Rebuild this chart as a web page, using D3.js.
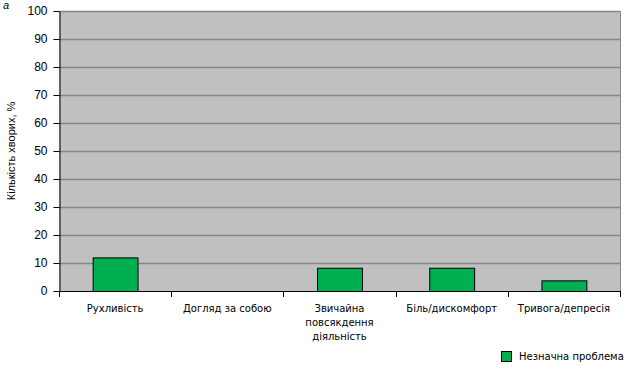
<!DOCTYPE html>
<html>
<head>
<meta charset="utf-8">
<script src="https://cdn.jsdelivr.net/npm/d3@7"></script>
<style>
  body { margin: 0; background: #fff; }
  svg text { fill: #000; }
</style>
</head>
<body>
<div id="chart"></div>
<script>
// data
var categories = ["Рухливість", "Догляд за собою", "Звичайна повсякденна діяльність", "Біль/дискомфорт", "Тривога/депресія"];
var catLines = [["Рухливість"], ["Догляд за собою"], ["Звичайна", "повсякдення", "діяльність"], ["Біль/дискомфорт"], ["Тривога/депресія"]];
var values = [12, 0, 8.3, 8.3, 3.8];
var yTicks = [0, 10, 20, 30, 40, 50, 60, 70, 80, 90, 100];
var seriesName = "Незначна проблема";

var w = 630, h = 373;
var margin = {left: 59, right: 10, top: 11, bottom: 82};

var svg = d3.select("#chart").append("svg")
    .attr("width", w)
    .attr("height", h);

var x = d3.scaleBand()
    .domain(categories)
    .range([margin.left, w - margin.right])
    .paddingInner(0.6)
    .paddingOuter(0.3);

var y = d3.scaleLinear()
    .domain([0, 100])
    .range([h - margin.bottom, margin.top]);

// plot background
svg.append("rect")
    .attr("x", margin.left)
    .attr("y", margin.top)
    .attr("width", w - margin.right - margin.left)
    .attr("height", y(0) - margin.top)
    .attr("fill", "#c0c0c0");

// gridlines
svg.append("g")
    .selectAll("line")
    .data(yTicks.filter(function(d){ return d > 0; }))
    .enter().append("line")
    .attr("x1", margin.left)
    .attr("x2", w - margin.right)
    .attr("y1", function(d){ return Math.round(y(d)) + 0.5; })
    .attr("y2", function(d){ return Math.round(y(d)) + 0.5; })
    .attr("stroke", "#868686")
    .attr("stroke-width", 1.5);

// right border
svg.append("line")
    .attr("x1", w - margin.right + 0.5).attr("x2", w - margin.right + 0.5)
    .attr("y1", margin.top).attr("y2", y(0))
    .attr("stroke", "#868686");

// bars (zero values draw nothing)
var barData = values.map(function(v, i){ return {cat: categories[i], value: v}; })
    .filter(function(d){ return d.value > 0; });

svg.append("g")
    .selectAll("rect")
    .data(barData)
    .enter().append("rect")
    .attr("x", function(d){ return x(d.cat) + 0.5; })
    .attr("y", function(d){ return y(d.value) + 0.5; })
    .attr("width", x.bandwidth())
    .attr("height", function(d){ return y(0) - y(d.value); })
    .attr("fill", "#00b050")
    .attr("stroke", "#000")
    .attr("stroke-width", 1);

// y axis
var yAxis = svg.append("g")
    .attr("transform", "translate(" + (margin.left + 0.5) + ",0)")
    .call(d3.axisLeft(y).tickValues(yTicks).tickSize(6).tickSizeOuter(0));
yAxis.select(".domain").attr("stroke", "#000");
yAxis.selectAll("text")
    .attr("x", -12)
    .style("font-family", "'Liberation Sans', Arial, sans-serif")
    .style("font-size", "12px");

// x axis line with ticks at band boundaries
var bounds = d3.range(categories.length + 1).map(function(i){
  return margin.left + i * (w - margin.right - margin.left) / categories.length;
});
svg.append("line")
    .attr("x1", margin.left).attr("x2", w - margin.right)
    .attr("y1", y(0) + 0.5).attr("y2", y(0) + 0.5)
    .attr("stroke", "#000");
svg.append("g")
    .selectAll("line")
    .data(bounds)
    .enter().append("line")
    .attr("x1", function(d){ return Math.round(d) + 0.5; })
    .attr("x2", function(d){ return Math.round(d) + 0.5; })
    .attr("y1", y(0))
    .attr("y2", y(0) + 6)
    .attr("stroke", "#000");

// category labels
var labels = svg.append("g")
    .selectAll("text")
    .data(categories)
    .enter().append("text")
    .attr("text-anchor", "middle")
    .attr("x", function(d){ return x(d) + x.bandwidth() / 2; })
    .attr("y", y(0) + 21)
    .style("font-family", "'DejaVu Sans', Verdana, sans-serif")
    .style("font-size", "10px");
labels.each(function(d, i){
  var t = d3.select(this);
  catLines[i].forEach(function(line, k){
    t.append("tspan")
      .attr("x", x(d) + x.bandwidth() / 2)
      .attr("dy", k === 0 ? 0 : 14)
      .text(line);
  });
});

// y title
svg.append("text")
    .attr("transform", "translate(15," + ((margin.top + y(0)) / 2) + ") rotate(-90)")
    .attr("text-anchor", "middle")
    .style("font-family", "'Liberation Sans', Arial, sans-serif")
    .style("font-size", "11px")
    .text("Кількість хворих, %");

// panel letter
svg.append("text")
    .attr("x", 3)
    .attr("y", 9)
    .style("font-family", "'Liberation Sans', Arial, sans-serif")
    .style("font-size", "11px")
    .style("font-style", "italic")
    .text("а");

// legend
var legend = svg.append("g").attr("transform", "translate(501,351)");
legend.append("rect")
    .attr("x", 0.5).attr("y", 0.5)
    .attr("width", 10).attr("height", 10)
    .attr("fill", "#00b050")
    .attr("stroke", "#000");
legend.append("text")
    .attr("x", 18)
    .attr("y", 9)
    .style("font-family", "'DejaVu Sans', Verdana, sans-serif")
    .style("font-size", "10px")
    .text(seriesName);
</script>
</body>
</html>
